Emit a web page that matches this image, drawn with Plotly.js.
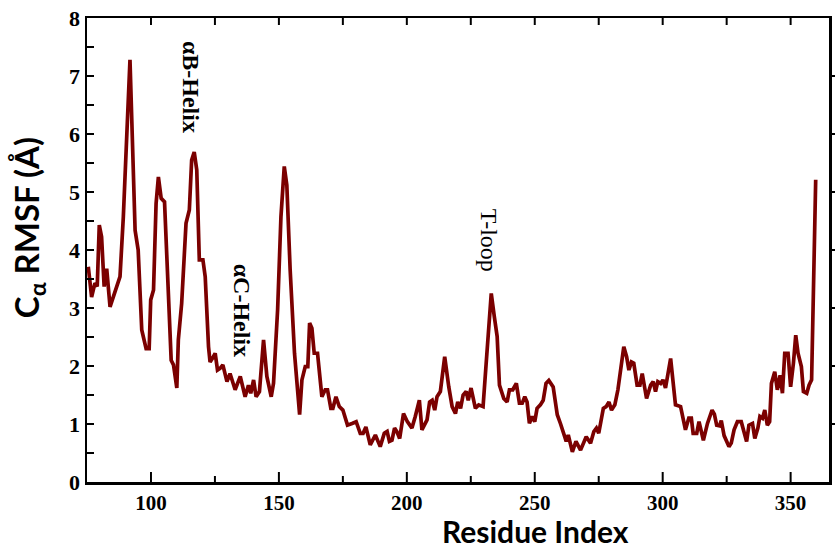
<!DOCTYPE html>
<html>
<head>
<meta charset="utf-8">
<script src="https://cdn.plot.ly/plotly-3.0.1.min.js"></script>
<style>html,body{margin:0;padding:0;background:#fff;}#chart{width:835px;height:548px;background:#fff;}</style>
</head>
<body>
<div id="chart"></div>
<script>
// Residue index
const residue = [75.5,76.8,78.1,79,79.8,80.7,81.7,82.7,84,87.9,89.2,91.8,93.8,95,96.4,98.1,99.3,99.9,101,102,102.9,104,105.3,106.4,107.9,108.8,110.1,110.7,112,113.7,115,115.9,116.9,117.9,118.9,120.3,121.2,122.5,123.1,124.4,125.1,126,127,128.1,129.7,130.9,132.9,134.9,
136.8,138.1,139,140.1,141.1,142.4,144,145.3,147,147.9,149.5,150.8,152.1,153.1,154.4,156.1,158.1,159,160.3,161.3,162,162.9,163.8,165.1,166.8,168.1,169,170.3,171.1,172.3,173.6,175,176.8,178.6,180.2,181.8,182.9,184,185.7,187.7,189.6,191.2,192.3,193.2,194.2,195.2,196.1,197.2,198.7,200.2,202,
203.3,204.9,205.9,207.9,208.9,209.9,210.9,211.8,213.1,214.8,216.4,217.7,219,219.9,221,222,223.2,224,225.1,226.8,228.1,229.8,231.1,233,234.2,235.3,236.2,237.9,239.2,240.1,241.4,242.8,244,245.1,246.1,247,247.9,249,250,250.9,252.2,253.3,254.4,255.5,257.2,258.8,260.1,261.4,262.3,263.1,264.7,266.1,267.9,
270.1,271.8,273.1,274.1,275,276.8,277.9,279,280,281.3,282.5,283.5,284.8,285.9,286.8,287.8,288.7,290,291.1,292,293.7,295.3,296.3,297.2,298.1,299.2,300.1,301.1,302,303.1,305,307,308.9,310.2,311.2,311.9,313.3,314.2,315.9,317.5,319.3,320.2,321.1,322.2,322.9,324,325.9,326.8,327.9,329.2,330.7,
331.8,332.8,333.7,335.1,336,337.2,338,339,339.9,340.9,341.8,342.5,343.8,344.8,345.9,346.8,347.7,349,350,351.1,352,352.9,354.2,355,356.3,357.2,358.2,359.8];
// C-alpha RMSF (Å)
const rmsf = [3.71,3.19,3.43,3.37,4.43,4.23,3.37,3.68,3.02,3.54,4.57,7.28,4.34,4.0,2.62,2.30,2.30,3.14,3.31,4.8,5.26,4.89,4.83,3.54,2.10,2.02,1.62,2.45,3.08,4.46,4.69,5.55,5.69,5.38,3.83,3.83,3.54,2.33,2.07,2.16,2.22,1.93,1.96,2.02,1.73,1.87,1.59,1.82,
1.47,1.67,1.53,1.76,1.47,1.56,2.45,1.82,1.47,1.70,2.97,4.57,5.44,5.12,3.66,2.22,1.16,1.76,1.99,1.99,2.74,2.65,2.22,2.22,1.47,1.59,1.59,1.27,1.27,1.47,1.30,1.24,0.98,1.01,1.04,0.84,0.84,0.95,0.64,0.81,0.61,0.84,0.87,0.70,0.72,0.93,0.87,0.75,1.18,1.04,0.93,
1.13,1.41,0.90,1.07,1.38,1.41,1.24,1.47,1.56,2.16,1.64,1.30,1.18,1.38,1.27,1.50,1.56,1.41,1.62,1.27,1.33,1.30,2.10,3.25,2.85,2.51,1.67,1.44,1.38,1.59,1.59,1.70,1.36,1.36,1.47,1.38,1.01,1.13,1.04,1.27,1.33,1.41,1.70,1.75,1.64,1.16,1.0,0.84,0.70,0.81,0.52,0.70,0.55,
0.78,0.67,0.87,0.93,0.84,1.27,1.30,1.38,1.24,1.33,1.59,1.93,2.33,2.16,1.93,2.07,2.05,1.67,1.67,1.87,1.44,1.67,1.73,1.56,1.73,1.70,1.76,1.62,1.87,2.13,1.33,1.30,0.90,1.10,1.10,0.84,0.84,1.04,0.72,1.01,1.24,1.17,0.98,0.97,1.06,0.80,0.61,0.67,0.90,1.04,1.04,
0.84,0.70,0.98,1.01,0.75,0.93,1.13,1.10,1.24,0.98,1.04,1.70,1.90,1.59,1.84,1.53,2.22,2.22,1.64,2.05,2.53,2.22,1.99,1.56,1.53,1.67,1.76,5.21];

const xTicks = [100,150,200,250,300,350];
const xMinorTicks = [125,175,225,275,325];
const xTopTicks = [100,125,150,175,200,225,250,275,300,325,350];
const yTicks = [0,1,2,3,4,5,6,7,8];
const yMinorTicks = [0.5,1,1.5,2,2.5,3,3.5,4,4.5,5,5.5,6,6.5,7,7.5];
const yRightTicks = [1,2,3,4,5,6,7];
const regionLabels = ['αB-Helix','αC-Helix','T-loop'];
const regionX = [115.7,135.6,231.9];
const regionY = [6.81,2.97,4.17];

const xRange = [75,365];
const yRange = [0,8];
const lineColor = '#7b0000';
const serif = 'Liberation Serif, Times New Roman, serif';
const sans = 'Lato, Open Sans, sans-serif';

const plotW = 835-87-6, plotH = 548-18-66;

const trace = {
  x: residue, y: rmsf, type: 'scatter', mode: 'lines',
  line: {color: lineColor, width: 3.7}, hoverinfo: 'skip', showlegend: false
};

const annotations = regionLabels.map((t,i)=>({
  text: t, x: regionX[i], y: regionY[i], xref:'x', yref:'y',
  showarrow:false, textangle:90, xanchor:'center', yanchor:'middle',
  font:{family:serif, size:24, color:'#000', weight: i===2 ? 'normal':'bold'}
}));
annotations.push({
  text:'C<sub>α</sub> RMSF (Å)', xref:'paper', yref:'paper',
  x:-0.0795, y:0.547, showarrow:false, textangle:-90,
  xanchor:'center', yanchor:'middle',
  font:{family:sans, size:33, color:'#000', weight:'bold'}
});
annotations.push({
  text:'Residue Index', xref:'paper', yref:'paper',
  x:0.605, y:-0.105, showarrow:false,
  xanchor:'center', yanchor:'middle',
  font:{family:sans, size:30, color:'#000', weight:'bold'}
});

// tick marks as paper/axis-referenced line shapes drawn above everything
const tl = {color:'#000', width:2};
const shapes = [];
xTicks.forEach(v=>shapes.push({type:'line', layer:'above', xref:'x', yref:'paper', x0:v, x1:v, y0:0, y1:10/plotH, line:tl}));
xMinorTicks.forEach(v=>shapes.push({type:'line', layer:'above', xref:'x', yref:'paper', x0:v, x1:v, y0:0, y1:6/plotH, line:tl}));
xTopTicks.forEach(v=>shapes.push({type:'line', layer:'above', xref:'x', yref:'paper', x0:v, x1:v, y0:1, y1:1-7/plotH, line:tl}));
yMinorTicks.forEach(v=>shapes.push({type:'line', layer:'above', xref:'paper', yref:'y', x0:0, x1:7/plotW, y0:v, y1:v, line:tl}));
yRightTicks.forEach(v=>shapes.push({type:'line', layer:'above', xref:'paper', yref:'y', x0:1, x1:1+6/plotW, y0:v, y1:v, line:tl}));

const layout = {
  width:835, height:548,
  margin:{l:87, r:6, t:18, b:66},
  paper_bgcolor:'rgba(0,0,0,0)', plot_bgcolor:'rgba(0,0,0,0)',
  showlegend:false,
  xaxis:{
    range:xRange, tickmode:'array', tickvals:xTicks, ticks:'',
    showline:true, mirror:true, linecolor:'#000', linewidth:2.5, showgrid:false, zeroline:false,
    tickfont:{family:serif, size:21, color:'#000', weight:'bold'}
  },
  yaxis:{
    range:yRange, tickmode:'array', tickvals:yTicks, ticks:'',
    showline:true, mirror:true, linecolor:'#000', linewidth:2.5, showgrid:false, zeroline:false,
    tickfont:{family:serif, size:22, color:'#000', weight:'bold'}
  },
  shapes: shapes,
  annotations: annotations
};

Plotly.newPlot('chart', [trace], layout, {displayModeBar:false, staticPlot:true});
</script>
</body>
</html>
